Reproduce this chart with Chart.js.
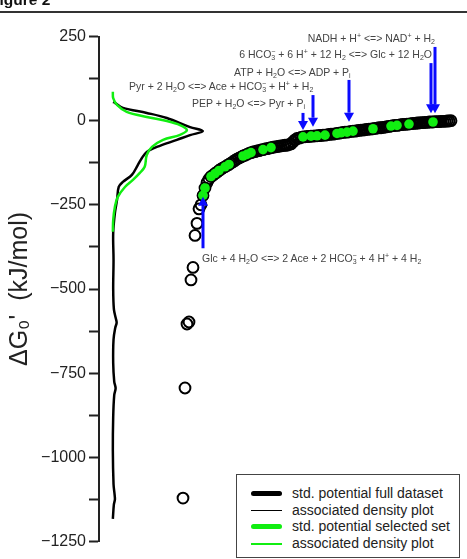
<!DOCTYPE html>
<html>
<head>
<meta charset="utf-8">
<script src="https://cdn.jsdelivr.net/npm/chart.js@4/dist/chart.umd.min.js"></script>
<style>
  body { margin: 0; background: #fff; }
  #wrap { position: relative; width: 467px; height: 559px; overflow: hidden; font-family: "Liberation Sans", Arial, sans-serif; }
  #wrap canvas { position: absolute; left: 0; top: 0; }
  .fig { position: absolute; left: -10px; top: -8.5px; font: bold 15.5px/15px "Liberation Sans", Arial, sans-serif; color: #111; }
  .rule { position: absolute; left: 0; top: 10.5px; width: 467px; height: 2px; background: #333; }
  .rx { position: absolute; font: 10.5px/11px "Liberation Sans", Arial, sans-serif; color: #444; white-space: nowrap; }
  .rx sub, .rx sup { font-size: 7px; line-height: 0; position: relative; vertical-align: baseline; }
  .rx sub { top: 2.5px; }
  .rx sup { top: -4px; }
  .rx sup.ng { margin-left: -4px; }
  .leg { position: absolute; left: 236px; top: 474px; width: 224px; height: 84px; border: 1.5px solid #444; box-sizing: border-box; background: #fff; }
  .leg .row { position: absolute; left: 0; width: 100%; height: 17px; font: 14px/17px "Liberation Sans", Arial, sans-serif; color: #222; }
  .leg .row span.t { position: absolute; left: 55px; top: 0; white-space: nowrap; }
  .leg .sw { position: absolute; left: 14px; width: 31px; }
  .leg .thick { height: 5px; top: 6px; border-radius: 3px; }
  .leg .thin { height: 1.5px; top: 8px; }
</style>
</head>
<body>
<div id="wrap">
  <canvas id="myChart"></canvas>
  <div class="fig">Figure 2</div>
  <div class="rule"></div>

  <div class="rx" style="right:32px; top:32.5px;">NADH + H<sup>+</sup> &lt;=&gt; NAD<sup>+</sup> + H<sub>2</sub></div>
  <div class="rx" style="right:35px; top:48.5px;">6 HCO<sub>3</sub><sup class="ng">−</sup> + 6 H<sup>+</sup> + 12 H<sub>2</sub> &lt;=&gt; Glc + 12 H<sub>2</sub>O</div>
  <div class="rx" style="left:234px; top:66.5px;">ATP + H<sub>2</sub>O &lt;=&gt; ADP + P<sub>i</sub></div>
  <div class="rx" style="left:129px; top:80.5px;">Pyr + 2 H<sub>2</sub>O &lt;=&gt; Ace + HCO<sub>3</sub><sup class="ng">−</sup> + H<sup>+</sup> + H<sub>2</sub></div>
  <div class="rx" style="left:192px; top:97.5px;">PEP + H<sub>2</sub>O &lt;=&gt; Pyr + P<sub>i</sub></div>
  <div class="rx" style="left:202px; top:252.5px;">Glc + 4 H<sub>2</sub>O &lt;=&gt; 2 Ace + 2 HCO<sub>3</sub><sup class="ng">−</sup> + 4 H<sup>+</sup> + 4 H<sub>2</sub></div>

  <div class="leg">
    <div class="row" style="top:10px;"><span class="sw thick" style="background:#000"></span><span class="t">std. potential full dataset</span></div>
    <div class="row" style="top:26.5px;"><span class="sw thin" style="background:#000"></span><span class="t">associated density plot</span></div>
    <div class="row" style="top:43.2px;"><span class="sw thick" style="background:#11ee11"></span><span class="t">std. potential selected set</span></div>
    <div class="row" style="top:60px;"><span class="sw thin" style="background:#11ee11"></span><span class="t">associated density plot</span></div>
  </div>
</div>

<script>
// std. potentials of the full dataset, sorted (kJ/mol), x = rank
const fullDG = [
  -1121, -794, -604, -598, -473, -436, -341, -305, -262, -250,
  -222, -200, -184, -173, -166, -162, -157, -153, -148, -144,
  -140, -137, -133, -130, -126, -122, -118, -114, -111, -108,
  -105, -103, -100, -97, -95, -93, -92, -90, -89, -87,
  -86, -84, -83, -82, -80, -79, -78, -77, -76, -75,
  -74, -73, -73, -71, -69, -63, -57, -53, -52, -50,
  -48, -48, -47, -47, -46, -46, -45, -45, -44, -44,
  -43, -43, -42, -41, -40, -40, -39, -38, -37, -36,
  -35, -34, -34, -33, -32, -31, -31, -30, -29, -28,
  -28, -27, -26, -25, -25, -24, -23, -22, -21, -21,
  -20, -19, -18, -17, -16, -15, -14, -14, -13, -12,
  -11, -11, -10, -10, -9, -8, -8, -7, -7, -6,
  -6, -5, -5, -4, -4, -4, -3, -3, -3, -2,
  -2, -2, -1, -1, 0
];

// ranks (in fullDG) of the selected set
const selectedRank = [10, 11, 14, 16, 18, 21, 23, 30, 32, 34, 40, 44, 60, 64, 67, 71, 77, 79, 82, 85, 95, 104, 107, 113, 125];

// density plot of the full dataset
const densFullDG = [56, 53, 38, 23, 8, -19, -31, -43, -57, -78, -93, -111, -132, -161, -182, -197, -236, -274, -334, -414, -500, -560, -585, -600, -615, -650, -720, -775, -795, -815, -880, -980, -1080, -1110, -1125, -1140, -1183];
const densFull   = [0.001, 0.006, 0.029, 0.098, 0.156, 0.223, 0.26, 0.223, 0.185, 0.127, 0.098, 0.084, 0.072, 0.055, 0.029, 0.017, 0.012, 0.006, 0.001, 0.002, 0.001, 0.003, 0.008, 0.011, 0.007, 0.002, 0.001, 0.004, 0.008, 0.004, 0.001, 0.0, 0.002, 0.005, 0.006, 0.003, 0.0];

// density plot of the selected set
const densSelDG = [86, 67, 47, 26, 11, -1, -13, -28, -42, -57, -78, -102, -137, -155, -176, -197, -227, -256, -295, -330];
const densSel   = [0, 0.001, 0.012, 0.04, 0.098, 0.156, 0.194, 0.214, 0.194, 0.145, 0.113, 0.098, 0.092, 0.078, 0.058, 0.035, 0.014, 0.006, 0.001, 0];

// annotated reactions: rank, arrow tail and tip (kJ/mol)
const arrowRank = [10, 60, 65, 83, 124, 126];
const arrowTail = [-379, 23, 76, 121, 171, 219];
const arrowTip  = [-226, -28, -18, -3, 22, 22];

const yTicks = { min: -1250, max: 250, step: 125, labelEvery: 250 };

const arrowPlugin = {
  id: 'arrows',
  afterDatasetsDraw(chart) {
    const { ctx, scales: { x, y } } = chart;
    ctx.save();
    ctx.strokeStyle = '#0a0aff';
    ctx.fillStyle = '#0a0aff';
    ctx.lineWidth = 3;
    arrowRank.forEach((r, k) => {
      const px = x.getPixelForValue(r);
      const y0 = y.getPixelForValue(arrowTail[k]);
      const y1 = y.getPixelForValue(arrowTip[k]);
      const dir = Math.sign(y1 - y0);
      const head = 9;
      ctx.beginPath();
      ctx.moveTo(px, y0);
      ctx.lineTo(px, y1 - dir * head);
      ctx.stroke();
      ctx.beginPath();
      ctx.moveTo(px, y1);
      ctx.lineTo(px - 5, y1 - dir * head);
      ctx.lineTo(px + 5, y1 - dir * head);
      ctx.closePath();
      ctx.fill();
    });
    ctx.restore();
  }
};

document.addEventListener('DOMContentLoaded', function () {
  const ctx = document.getElementById('myChart').getContext('2d');

  new Chart(ctx, {
    type: 'scatter',
    data: {
      datasets: [
        {
          label: 'std. potential selected set',
          data: selectedRank.map(r => ({ x: r, y: fullDG[r] })),
          pointRadius: 4.8,
          pointBackgroundColor: '#11ee11',
          pointBorderWidth: 0,
          xAxisID: 'x'
        },
        {
          label: 'std. potential full dataset',
          data: fullDG.map((v, i) => ({ x: i, y: v })),
          pointRadius: 5.4,
          pointBackgroundColor: 'rgba(0,0,0,0)',
          pointBorderColor: '#000',
          pointBorderWidth: 2,
          xAxisID: 'x'
        },
        {
          label: 'associated density plot',
          data: densSelDG.map((v, i) => ({ x: densSel[i], y: v })),
          showLine: true,
          pointRadius: 0,
          borderColor: '#11ee11',
          borderWidth: 2.5,
          tension: 0.35,
          xAxisID: 'xd'
        },
        {
          label: 'associated density plot',
          data: densFullDG.map((v, i) => ({ x: densFull[i], y: v })),
          showLine: true,
          pointRadius: 0,
          borderColor: '#000',
          borderWidth: 2.5,
          tension: 0.35,
          xAxisID: 'xd'
        }
      ]
    },
    options: {
      responsive: true,
      maintainAspectRatio: false,
      animation: false,
      layout: { padding: { left: 0, right: 8, top: 36.5, bottom: 17.5 } },
      plugins: {
        legend: { display: false },
        tooltip: { enabled: false }
      },
      scales: {
        x: { type: 'linear', display: false, min: -42, max: 138 },
        xd: { type: 'linear', display: false, min: -0.04, max: 1.0 },
        y: {
          position: 'left',
          min: yTicks.min,
          max: yTicks.max,
          afterFit: (scale) => { scale.width = 99; },
          border: { display: true, color: '#222', width: 2 },
          grid: { drawOnChartArea: false, drawTicks: true, tickLength: 10, tickWidth: 2, tickColor: '#222' },
          ticks: {
            stepSize: yTicks.step,
            autoSkip: false,
            padding: 3,
            color: '#222',
            font: { family: '"Liberation Sans", Arial, sans-serif', size: 16 },
            callback: (v) => v % yTicks.labelEvery === 0 ? (v < 0 ? '\u2212' + Math.abs(v) : String(v)) : ''
          },
          title: {
            display: true,
            text: 'ΔG₀\'  (kJ/mol)',
            color: '#222',
            padding: { top: 5, bottom: 0 },
            font: { family: '"Liberation Sans", Arial, sans-serif', size: 25 }
          }
        }
      }
    },
    plugins: [arrowPlugin]
  });
});
</script>
</body>
</html>
